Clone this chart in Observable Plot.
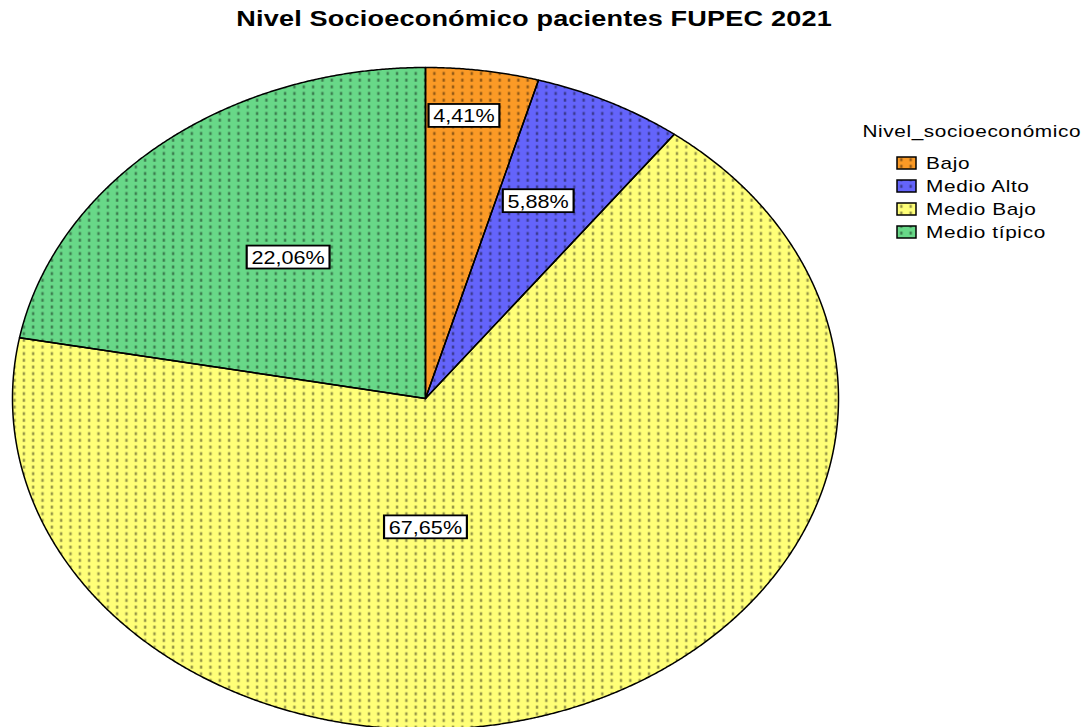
<!DOCTYPE html>
<html>
<head>
<meta charset="utf-8">
<script src="https://cdn.jsdelivr.net/npm/d3@7"></script>
<script src="https://cdn.jsdelivr.net/npm/@observablehq/plot@0.6"></script>
<style>
  body { margin: 0; background: #fff; font-family: "Liberation Sans", Arial, sans-serif; }
  #wrap { position: relative; width: 1086px; height: 727px; overflow: hidden; }
  #titlebox { position: absolute; left: 0; top: 8px; width: 1068px; text-align: center; }
  #title { display: inline-block; font-weight: bold; font-size: 22px; line-height: 22px;
           letter-spacing: 0.15px; color: #000; transform: scaleX(1.23); transform-origin: 50% 50%; }
  #chart { position: absolute; left: 0; top: 50px; }
  #legend { position: absolute; left: 850px; top: 110px; }
</style>
</head>
<body>
<div id="wrap">
  <svg width="0" height="0" style="position:absolute">
    <defs>
      <pattern id="dots" patternUnits="userSpaceOnUse" width="9.33" height="6.67">
        <rect x="3.5" y="1.5" width="2.4" height="3" fill="#000" fill-opacity="0.42"></rect>
      </pattern>
    </defs>
  </svg>
  <div id="titlebox"><span id="title"></span></div>
  <div id="chart"></div>
  <svg id="legend" width="236" height="140"></svg>
</div>
<script>
// ---- data ----
const titleText = "Nivel Socioeconómico pacientes FUPEC 2021";
const legendTitle = "Nivel_socioeconómico";
const categories = ["Bajo", "Medio Alto", "Medio Bajo", "Medio típico"];
const percentages = [4.41, 5.88, 67.65, 22.06];
const labels = ["4,41%", "5,88%", "67,65%", "22,06%"];

// ---- style / layout ----
const colors = ["#fb9a26", "#6464fb", "#ffff78", "#68d888"];
const labelRadius = [0.857, 0.654, 0.391, 0.539];   // fraction of radius
const labelNudge = [-1.7, -1.8, 21.2, 1.6];         // degrees from mid-angle
const stretch = 1.2;                                // horizontal text stretch

document.getElementById("title").textContent = titleText;

const total = d3.sum(percentages);
let acc = 0;
const slices = categories.map((c, i) => {
  const a0 = acc / total * 360;
  acc += percentages[i];
  const a1 = acc / total * 360;
  return {c, i, a0, a1};
});

const pts = [];
for (const s of slices) {
  pts.push({c: s.c, x: 0, y: 0});
  const n = Math.ceil((s.a1 - s.a0) / 0.25);
  for (let k = 0; k <= n; k++) {
    const a = (s.a0 + (s.a1 - s.a0) * k / n) * Math.PI / 180;
    pts.push({c: s.c, x: Math.sin(a), y: Math.cos(a)});
  }
}

const labelData = slices.map(s => {
  const a = ((s.a0 + s.a1) / 2 + labelNudge[s.i]) * Math.PI / 180;
  const r = labelRadius[s.i];
  return {label: labels[s.i], x: r * Math.sin(a), y: r * Math.cos(a)};
});

const chart = Plot.plot({
  width: 1086,
  height: 677,
  margin: 0,
  x: {domain: [-1, 1], range: [12, 838], axis: null},
  y: {domain: [-1, 1], range: [679, 17], axis: null},
  color: {domain: categories, range: colors},
  style: {background: "transparent", overflow: "visible", fontFamily: "'Liberation Sans', Arial, sans-serif"},
  marks: [
    Plot.line(pts, {x: "x", y: "y", z: "c", fill: "c", stroke: "none", curve: "linear-closed"}),
    Plot.line(pts, {x: "x", y: "y", z: "c", fill: "url(#dots)", stroke: "black", strokeWidth: 1.5,
                    strokeLinejoin: "round", curve: "linear-closed"}),
    Plot.text(labelData, {x: "x", y: "y", text: "label", fontSize: 18, fill: "black"})
  ]
});
document.getElementById("chart").append(chart);

chart.querySelectorAll('g[aria-label="text"] text').forEach(t => {
  const tr = (t.getAttribute("transform") || "") + ` scale(${stretch},1)`;
  t.setAttribute("transform", tr);
  const bb = t.getBBox();
  const r = document.createElementNS("http://www.w3.org/2000/svg", "rect");
  r.setAttribute("x", bb.x - 4);
  r.setAttribute("y", bb.y - 2);
  r.setAttribute("width", bb.width + 8);
  r.setAttribute("height", bb.height + 3);
  r.setAttribute("fill", "white");
  r.setAttribute("stroke", "black");
  r.setAttribute("stroke-width", 1.8);
  r.setAttribute("transform", tr);
  t.parentNode.insertBefore(r, t);
});

// ---- legend ----
const lg = d3.select("#legend")
  .style("font-family", "'Liberation Sans', Arial, sans-serif");
lg.append("text").attr("transform", `translate(12.5,27) scale(1.3,1)`).attr("font-size", 16)
  .style("letter-spacing", "0.45px").text(legendTitle);
categories.forEach((c, i) => {
  const cy = 53 + i * 23;
  lg.append("rect").attr("x", 47).attr("y", cy - 6).attr("width", 19).attr("height", 12)
    .attr("fill", colors[i]);
  lg.append("rect").attr("x", 47).attr("y", cy - 6).attr("width", 19).attr("height", 12)
    .attr("fill", "url(#dots)").attr("stroke", "black").attr("stroke-width", 1.5);
  lg.append("text").attr("transform", `translate(76,${cy + 6}) scale(1.3,1)`).attr("font-size", 16)
    .style("letter-spacing", "0.5px").text(c);
});
</script>
</body>
</html>
